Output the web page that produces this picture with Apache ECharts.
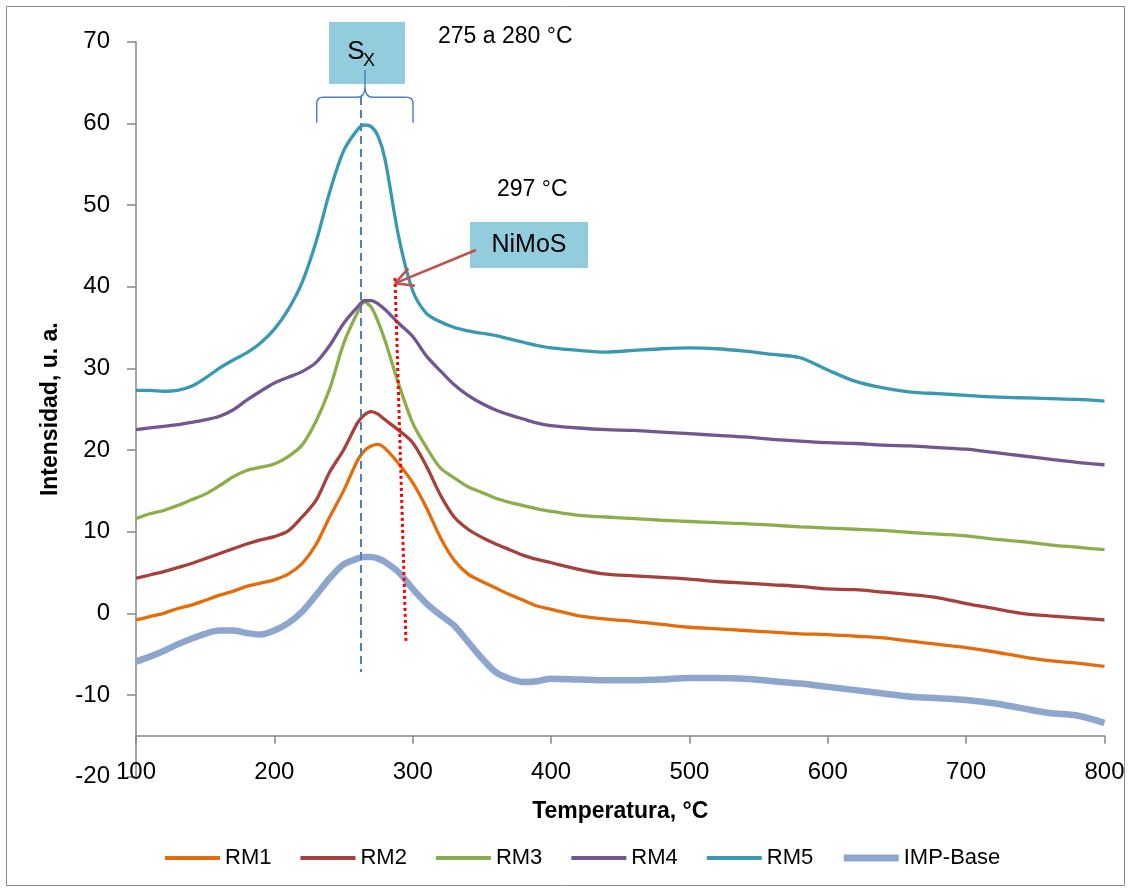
<!DOCTYPE html>
<html>
<head>
<meta charset="utf-8">
<script src="https://cdn.jsdelivr.net/npm/echarts@6/dist/echarts.min.js"></script>
<style>
  html, body { margin: 0; padding: 0; background: #fff; }
  #main { width: 1131px; height: 892px; }
</style>
</head>
<body>
<div id="main"></div>
<script>
// temperatura (°C)
var temps = [100, 110, 120, 130, 140, 150, 160, 170, 180, 190,
             200, 210, 220, 230, 240, 250, 260, 265, 270, 275, 280, 290,
             300, 310, 320, 330, 340, 350, 360, 370, 380, 390,
             400, 420, 440, 460, 480, 500, 520, 540, 560, 580,
             600, 620, 640, 660, 680, 700, 720, 740, 760, 780, 800];

var rm1 = [-0.8, -0.4, 0.0, 0.6, 1.0, 1.6, 2.2, 2.7, 3.3, 3.7,
           4.1, 4.8, 6.1, 8.4, 11.8, 15.0, 18.7, 19.9, 20.5, 20.7, 20.2, 18.3,
           16.0, 12.9, 9.3, 6.5, 4.8, 3.9, 3.1, 2.3, 1.6, 0.9,
           0.5, -0.3, -0.7, -1.0, -1.35, -1.7, -1.9, -2.1, -2.3, -2.5,
           -2.6, -2.8, -3.0, -3.4, -3.8, -4.2, -4.7, -5.3, -5.8, -6.1, -6.5];

var rm2 = [4.3, 4.7, 5.1, 5.6, 6.1, 6.7, 7.3, 7.9, 8.5, 9.0,
           9.4, 10.1, 11.8, 13.8, 17.3, 20.0, 23.3, 24.3, 24.7, 24.4, 23.7, 22.4,
           20.9, 18.0, 14.5, 11.8, 10.3, 9.3, 8.5, 7.8, 7.1, 6.6,
           6.2, 5.4, 4.8, 4.6, 4.4, 4.2, 3.9, 3.7, 3.5, 3.3,
           3.0, 2.9, 2.6, 2.3, 1.9, 1.2, 0.6, 0.0, -0.3, -0.55, -0.8];

var rm3 = [11.6, 12.2, 12.6, 13.2, 13.9, 14.6, 15.6, 16.7, 17.5, 17.9,
           18.3, 19.2, 20.6, 23.5, 27.5, 33.0, 36.8, 38.1, 37.5, 35.7, 33.4, 28.0,
           23.3, 20.3, 17.8, 16.6, 15.5, 14.8, 14.1, 13.6, 13.2, 12.8,
           12.5, 12.0, 11.8, 11.6, 11.4, 11.25, 11.1, 11.0, 10.8, 10.6,
           10.45, 10.3, 10.15, 9.9, 9.7, 9.5, 9.1, 8.8, 8.4, 8.1, 7.8];

var rm4 = [22.5, 22.7, 22.9, 23.1, 23.4, 23.7, 24.1, 24.9, 26.1, 27.2,
           28.2, 28.9, 29.6, 30.7, 32.8, 35.5, 37.5, 38.3, 38.3, 37.9, 37.2, 35.5,
           33.9, 31.5, 29.7, 28.0, 26.7, 25.7, 24.9, 24.3, 23.8, 23.3,
           23.0, 22.7, 22.5, 22.4, 22.2, 22.0, 21.8, 21.6, 21.3, 21.1,
           20.9, 20.8, 20.6, 20.5, 20.3, 20.1, 19.7, 19.3, 18.9, 18.5, 18.2];

var rm5 = [27.3, 27.3, 27.2, 27.3, 27.8, 28.8, 30.0, 31.0, 31.9, 33.1,
           34.8, 37.2, 40.5, 45.4, 51.6, 56.6, 59.2, 59.8, 59.6, 58.4, 55.6, 46.0,
           39.5, 36.7, 35.7, 35.0, 34.6, 34.3, 34.0, 33.6, 33.2, 32.8,
           32.5, 32.2, 32.0, 32.2, 32.4, 32.5, 32.4, 32.1, 31.7, 31.3,
           29.8, 28.4, 27.6, 27.1, 26.9, 26.7, 26.5, 26.4, 26.3, 26.2, 26.0];

var impBase = [-5.9, -5.3, -4.6, -3.8, -3.1, -2.5, -2.1, -2.1, -2.4, -2.6,
               -2.1, -1.2, 0.2, 2.2, 4.3, 6.0, 6.7, 6.9, 6.9, 6.7, 6.3, 5.0,
               3.0, 1.2, -0.2, -1.5, -3.5, -5.5, -7.2, -8.0, -8.4, -8.3,
               -8.0, -8.1, -8.2, -8.2, -8.1, -7.9, -7.9, -8.0, -8.3, -8.6,
               -9.0, -9.4, -9.8, -10.2, -10.4, -10.6, -11.0, -11.6, -12.2, -12.5, -13.4];

var font = 'Liberation Sans, Arial, sans-serif';
var axisGrey = '#868686';

function pairs(arr) {
    return temps.map(function (t, i) { return [t, arr[i]]; });
}

function lineSeries(name, arr, color, width) {
    return {
        name: name,
        type: 'line',
        data: pairs(arr),
        symbol: 'none',
        smooth: 0.3,
        lineStyle: { color: color, width: width },
        itemStyle: { color: color }
    };
}

var chart = echarts.init(document.getElementById('main'));

chart.setOption({
    animation: false,
    backgroundColor: '#fff',
    textStyle: { fontFamily: font },
    grid: { left: 136, right: 26.5, top: 41.7, bottom: 115.3 },
    legend: {
        left: 158,
        top: 842,
        itemWidth: 55,
        itemHeight: 14,
        itemGap: 27,
        itemStyle: { opacity: 0 },
        lineStyle: { width: 4 },
        textStyle: { fontSize: 22, color: '#000', fontFamily: font },
        data: ['RM1', 'RM2', 'RM3', 'RM4', 'RM5', { name: 'IMP-Base', lineStyle: { width: 7 } }]
    },
    xAxis: {
        type: 'value',
        min: 100,
        max: 800,
        interval: 100,
        name: 'Temperatura, °C',
        nameLocation: 'middle',
        nameGap: 23,
        nameTextStyle: { fontSize: 23, fontWeight: 'bold', color: '#000', fontFamily: font },
        // the horizontal axis crosses the vertical one at -15
        axisLine: { onZero: true, onZeroAxisIndex: 1, lineStyle: { color: axisGrey, width: 1.5 } },
        axisTick: { length: 8, lineStyle: { color: axisGrey, width: 1.5 } },
        axisLabel: { fontSize: 24, color: '#000', margin: -16, fontFamily: font },
        splitLine: { show: false }
    },
    yAxis: [{
        type: 'value',
        min: -20,
        max: 70,
        interval: 10,
        name: 'Intensidad, u. a.',
        nameLocation: 'middle',
        nameGap: 74,
        nameTextStyle: { fontSize: 23, fontWeight: 'bold', color: '#000', fontFamily: font },
        axisLine: { show: true, onZero: false, lineStyle: { color: axisGrey, width: 1.5 } },
        axisTick: { show: true, length: 9, lineStyle: { color: axisGrey, width: 1.5 } },
        axisLabel: { fontSize: 24, color: '#000', margin: 26, fontFamily: font },
        splitLine: { show: false }
    }, {
        // helper axis, shifted by 15, only used to place the x axis line
        type: 'value',
        min: -5,
        max: 85,
        show: false
    }],
    series: [
        lineSeries('RM1', rm1, '#E46C0A', 3.3),
        lineSeries('RM2', rm2, '#A5403D', 3.3),
        lineSeries('RM3', rm3, '#8CAD4A', 3.3),
        lineSeries('RM4', rm4, '#71568F', 3.3),
        lineSeries('RM5', rm5, '#3A98B2', 3.3),
        lineSeries('IMP-Base', impBase, '#8EA6CE', 6.5)
    ],
    graphic: [
        { type: 'rect', silent: true, z: 0, shape: { x: 6.5, y: 6.5, width: 1118, height: 879 },
          style: { fill: 'none', stroke: '#898989', lineWidth: 1 } },

        // Sx label and brace
        { type: 'rect', silent: true, z: 50, shape: { x: 329, y: 22, width: 76, height: 62 }, style: { fill: '#93CDDD' } },
        { type: 'text', silent: true, z: 51, x: 356, y: 52,
          style: { text: 'S', font: '26px ' + font, fill: '#000', align: 'center', verticalAlign: 'middle' } },
        { type: 'text', silent: true, z: 51, x: 369, y: 61,
          style: { text: 'X', font: '18px ' + font, fill: '#000', align: 'center', verticalAlign: 'middle' } },
        { type: 'text', silent: true, z: 51, x: 438, y: 37,
          style: { text: '275 a 280 °C', font: '23px ' + font, fill: '#000', align: 'left', verticalAlign: 'middle' } },

        { type: 'line', silent: true, z: 52, shape: { x1: 316.7, y1: 122.7, x2: 316.7, y2: 104 }, style: { stroke: '#4F81BD', lineWidth: 1.5 } },
        { type: 'bezierCurve', silent: true, z: 52, shape: { x1: 316.7, y1: 104, cpx1: 316.7, cpy1: 97.3, x2: 323, y2: 97.3 }, style: { stroke: '#4F81BD', lineWidth: 1.5, fill: 'none' } },
        { type: 'line', silent: true, z: 52, shape: { x1: 323, y1: 97.3, x2: 357, y2: 97.3 }, style: { stroke: '#4F81BD', lineWidth: 1.5 } },
        { type: 'bezierCurve', silent: true, z: 52, shape: { x1: 357, y1: 97.3, cpx1: 364.5, cpy1: 97.3, x2: 365, y2: 88 }, style: { stroke: '#4F81BD', lineWidth: 1.5, fill: 'none' } },
        { type: 'line', silent: true, z: 52, shape: { x1: 365, y1: 88, x2: 365, y2: 70 }, style: { stroke: '#4F81BD', lineWidth: 1.5 } },
        { type: 'bezierCurve', silent: true, z: 52, shape: { x1: 365, y1: 88, cpx1: 365.5, cpy1: 97.3, x2: 373, y2: 97.3 }, style: { stroke: '#4F81BD', lineWidth: 1.5, fill: 'none' } },
        { type: 'line', silent: true, z: 52, shape: { x1: 373, y1: 97.3, x2: 406.5, y2: 97.3 }, style: { stroke: '#4F81BD', lineWidth: 1.5 } },
        { type: 'bezierCurve', silent: true, z: 52, shape: { x1: 406.5, y1: 97.3, cpx1: 413, cpy1: 97.3, x2: 413, y2: 104 }, style: { stroke: '#4F81BD', lineWidth: 1.5, fill: 'none' } },
        { type: 'line', silent: true, z: 52, shape: { x1: 413, y1: 104, x2: 413, y2: 122.7 }, style: { stroke: '#4F81BD', lineWidth: 1.5 } },

        { type: 'line', silent: true, z: 52, shape: { x1: 361, y1: 97, x2: 361, y2: 672 },
          style: { stroke: '#4F81BD', lineWidth: 2, lineDash: [8, 5] } },

        // NiMoS label, arrow and dotted line
        { type: 'text', silent: true, z: 51, x: 497, y: 190,
          style: { text: '297 °C', font: '23px ' + font, fill: '#000', align: 'left', verticalAlign: 'middle' } },
        { type: 'rect', silent: true, z: 50, shape: { x: 470, y: 222, width: 118, height: 46 }, style: { fill: '#93CDDD' } },
        { type: 'text', silent: true, z: 51, x: 529, y: 245,
          style: { text: 'NiMoS', font: '25px ' + font, fill: '#000', align: 'center', verticalAlign: 'middle' } },
        { type: 'line', silent: true, z: 52, shape: { x1: 476, y1: 250, x2: 395, y2: 283.3 }, style: { stroke: '#C0504D', lineWidth: 2.5 } },
        { type: 'line', silent: true, z: 52, shape: { x1: 395, y1: 283.3, x2: 408.3, y2: 268.3 }, style: { stroke: '#C0504D', lineWidth: 2.5 } },
        { type: 'line', silent: true, z: 52, shape: { x1: 395, y1: 283.3, x2: 415, y2: 285.7 }, style: { stroke: '#C0504D', lineWidth: 2.5 } },
        { type: 'line', silent: true, z: 52, shape: { x1: 395, y1: 278, x2: 406, y2: 642 },
          style: { stroke: '#FF0000', lineWidth: 3, lineDash: [3, 3] } }
    ]
});
</script>
</body>
</html>
